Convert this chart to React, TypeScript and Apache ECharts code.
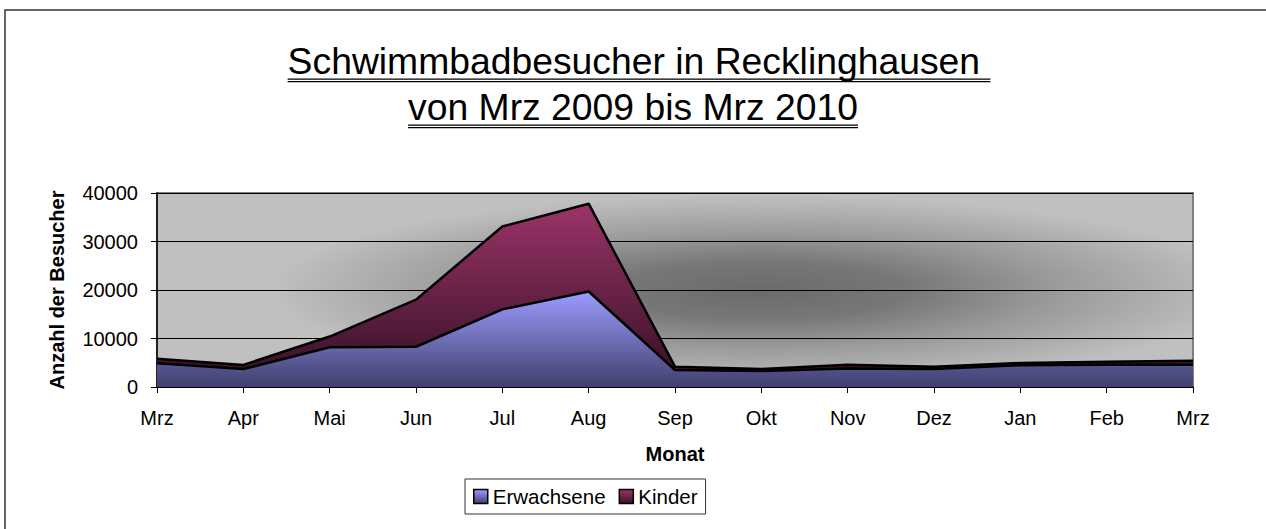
import React, { useEffect, useRef } from "react";
import * as echarts from "echarts";

const months = ["Mrz", "Apr", "Mai", "Jun", "Jul", "Aug", "Sep", "Okt", "Nov", "Dez", "Jan", "Feb", "Mrz"];
const erwachsene = [4900, 3700, 8200, 8300, 16000, 19700, 3500, 3300, 3800, 3700, 4500, 4600, 4600];
const kinder = [900, 850, 2200, 9700, 17100, 18100, 700, 400, 800, 500, 450, 600, 800];
const seriesNames = ["Erwachsene", "Kinder"];
const titleLines = ["Schwimmbadbesucher in Recklinghausen ", "von Mrz 2009 bis Mrz 2010"];
const yAxisName = "Anzahl der Besucher";
const xAxisName = "Monat";

const FONT = "'Liberation Sans', Arial, sans-serif";

function measure(text: string, size: number): number {
  const c = document.createElement("canvas").getContext("2d");
  if (!c) return text.length * size * 0.5;
  c.font = `${size}px 'Liberation Sans', Arial, sans-serif`;
  return c.measureText(text).width;
}

export default function App() {
  const ref = useRef<HTMLDivElement>(null);
  useEffect(() => {
    document.body.style.margin = "0";
    document.body.style.overflow = "hidden";
    const chart = echarts.init(ref.current!, null, { renderer: "svg" });

    // plot area
    const gl = 157, gt = 193, gw = 1036, gh = 194;
    const k = 95 / 490;

    const tSize = 37.3;
    const centers = [639, 633];
    const baselines = [74, 120];
    const graphics: any[] = [];
    // outer border (left and top visible)
    graphics.push({
      type: "polyline",
      silent: true,
      z: -20,
      shape: { points: [[5, 600], [5, 10], [1400, 10]] },
      style: { fill: null, stroke: "#333", lineWidth: 1.5 },
    });
    // plot background gradient (elliptical via scale)
    graphics.push({
      type: "rect",
      silent: true,
      z: -10,
      x: 0,
      y: 0,
      scaleY: k,
      shape: { x: gl, y: gt / k, width: gw, height: gh / k },
      style: {
        fill: new echarts.graphic.RadialGradient(760, 290 / k, 490, [
          { offset: 0, color: "#6b6b6b" },
          { offset: 0.3, color: "#777777" },
          { offset: 0.6, color: "#9a9a9a" },
          { offset: 1, color: "#c0c0c0" },
        ], true),
      },
    });
    titleLines.forEach((line, i) => {
      const w = measure(line, tSize);
      const left = centers[i] - w / 2;
      graphics.push({
        type: "text",
        x: centers[i],
        y: baselines[i] - 12.7,
        silent: true,
        style: {
          text: line,
          fontSize: tSize,
          fontFamily: FONT,
          fill: "#000",
          align: "center",
          verticalAlign: "middle",
        },
      });
      [5.2, 7.6].forEach((d) => {
        graphics.push({
          type: "line",
          silent: true,
          shape: { x1: left, y1: baselines[i] + d, x2: left + w, y2: baselines[i] + d },
          style: { stroke: "#000", lineWidth: 1.3 },
        });
      });
    });

    const erwGrad = () =>
      new echarts.graphic.LinearGradient(0, 0, 0, 1, [
        { offset: 0, color: "#9c9cff" },
        { offset: 1, color: "#40406e" },
      ]);
    const kinGrad = () =>
      new echarts.graphic.LinearGradient(0, 0, 0, 1, [
        { offset: 0, color: "#9b3468" },
        { offset: 1, color: "#3a1229" },
      ]);

    chart.setOption({
      animation: false,
      backgroundColor: "#fff",
      textStyle: { fontFamily: FONT },
      graphic: graphics,
      grid: {
        left: gl,
        top: gt,
        width: gw,
        height: gh,
        show: true,
        backgroundColor: "transparent",
        borderColor: "#808080",
        borderWidth: 2,
      },
      legend: {
        left: 465,
        top: 479,
        orient: "horizontal",
        icon: "rect",
        itemWidth: 14,
        itemHeight: 14,
        itemGap: 13,
        padding: [7, 8, 7, 8],
        borderColor: "#333",
        borderWidth: 1,
        backgroundColor: "#fff",
        textStyle: { fontSize: 20.5, fontFamily: FONT, color: "#000" },
        data: [
          { name: seriesNames[0], itemStyle: { color: erwGrad(), borderColor: "#000", borderWidth: 1.5 } },
          { name: seriesNames[1], itemStyle: { color: kinGrad(), borderColor: "#000", borderWidth: 1.5 } },
        ],
      },
      xAxis: {
        type: "category",
        data: months,
        boundaryGap: false,
        name: xAxisName,
        nameLocation: "middle",
        nameGap: 57,
        nameTextStyle: { fontSize: 20, fontWeight: "bold", color: "#000", fontFamily: FONT },
        axisLine: { show: true, lineStyle: { color: "#000", width: 1.5 } },
        axisTick: { show: true, length: 6, lineStyle: { color: "#000" } },
        axisLabel: { fontSize: 20, color: "#000", margin: 21, fontFamily: FONT },
        splitLine: { show: false },
      },
      yAxis: {
        type: "value",
        min: 0,
        max: 40000,
        interval: 10000,
        name: yAxisName,
        nameLocation: "middle",
        nameGap: 90,
        nameTextStyle: { fontSize: 20, fontWeight: "bold", color: "#000", fontFamily: FONT },
        axisLine: { show: true, lineStyle: { color: "#000", width: 1.5 } },
        axisTick: { show: true, length: 6, lineStyle: { color: "#000" } },
        axisLabel: { fontSize: 20, color: "#000", margin: 19, fontFamily: FONT, formatter: (v: number) => String(v) },
        splitLine: { show: true, lineStyle: { color: "#000", width: 1 } },
      },
      series: [
        {
          name: seriesNames[0],
          type: "line",
          stack: "total",
          data: erwachsene,
          symbol: "none",
          z: 4,
          lineStyle: { color: "#000", width: 2.5 },
          itemStyle: { color: "#7a7ad0" },
          areaStyle: { color: erwGrad(), opacity: 1 },
        },
        {
          name: seriesNames[1],
          type: "line",
          stack: "total",
          data: kinder,
          symbol: "none",
          z: 3,
          lineStyle: { color: "#000", width: 2.5 },
          itemStyle: { color: "#7a2850" },
          areaStyle: { color: kinGrad(), opacity: 1 },
        },
      ],
    });
    return () => chart.dispose();
  }, []);
  return <div ref={ref} style={{ width: 1266, height: 529 }} />;
}
